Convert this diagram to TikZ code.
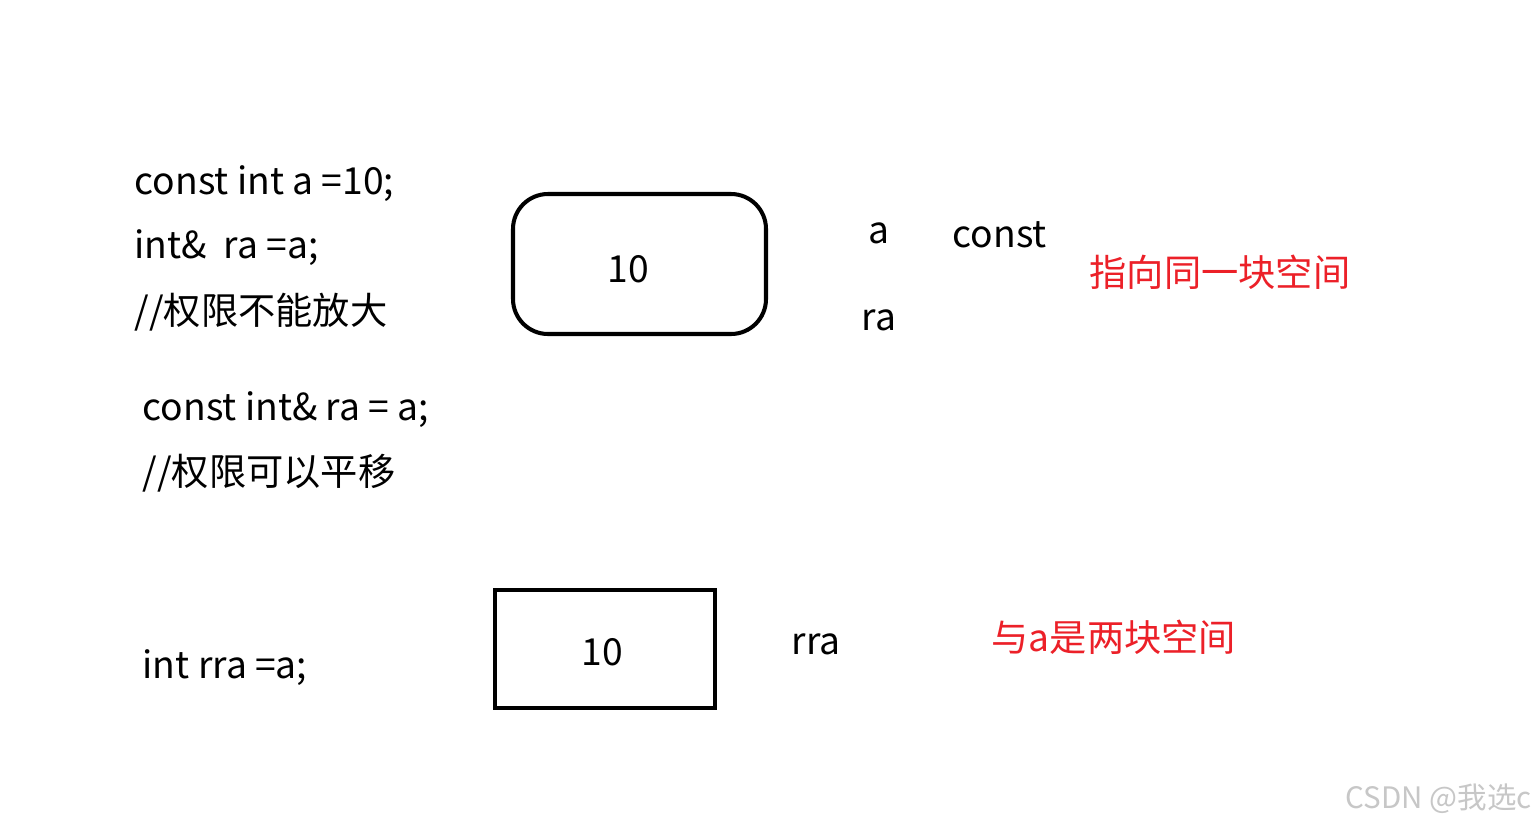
\documentclass[tikz,border=0pt]{standalone}
\usepackage{fontspec}
\setmainfont{Noto Sans CJK SC}
\definecolor{notered}{RGB}{236,32,40}
\begin{document}
\begin{tikzpicture}[
    code/.style={anchor=west, inner sep=0pt, font=\fontsize{10.6}{12}\selectfont},
    note/.style={code, text=notered},
    cell/.style={draw, line width=1.15pt, inner sep=0pt}
]
    \useasboundingbox[fill=white] (0,0) rectangle (15.32,-8.25);

    % code on the left
    \node[code] (def) at (1.34,-1.84) {const int a =10;};
    \node[code] (ref) at (1.34,-2.48) {int\&\ \ ra =a;};
    \node[code] (cmt1) at (1.34,-3.12) {//权限不能放大};
    \node[code] (cref) at (1.42,-4.10) {const int\& ra = a;};
    \node[code] (cmt2) at (1.42,-4.73) {//权限可以平移};
    \node[code] (copy) at (1.42,-6.68) {int rra =a;};

    % shared memory
    \node[cell, rounded corners=0.35cm, minimum width=2.53cm, minimum height=1.40cm] (shared) at (6.395,-2.64) {};
    \node[code, anchor=center] (sharedval) at (6.28,-2.69) {10};
    \node[code, anchor=center] (namea) at (8.79,-2.33) {a};
    \node[code] (qual) at (9.52,-2.35) {const};
    \node[code, anchor=center] (namera) at (8.79,-3.20) {ra};
    \node[note] (same) at (10.89,-2.72) {指向同一块空间};

    % separate memory
    \node[cell, minimum width=2.20cm, minimum height=1.18cm] (own) at (6.05,-6.49) {};
    \node[code, anchor=center] (ownval) at (6.02,-6.52) {10};
    \node[code, anchor=center] (namerra) at (8.16,-6.44) {rra};
    \node[note] (diff) at (9.91,-6.37) {与a是两块空间};

    \node[code, text=black!22, font=\fontsize{8.4}{10}\selectfont] (mark) at (13.45,-7.99) {CSDN @我选c};
\end{tikzpicture}
\end{document}
